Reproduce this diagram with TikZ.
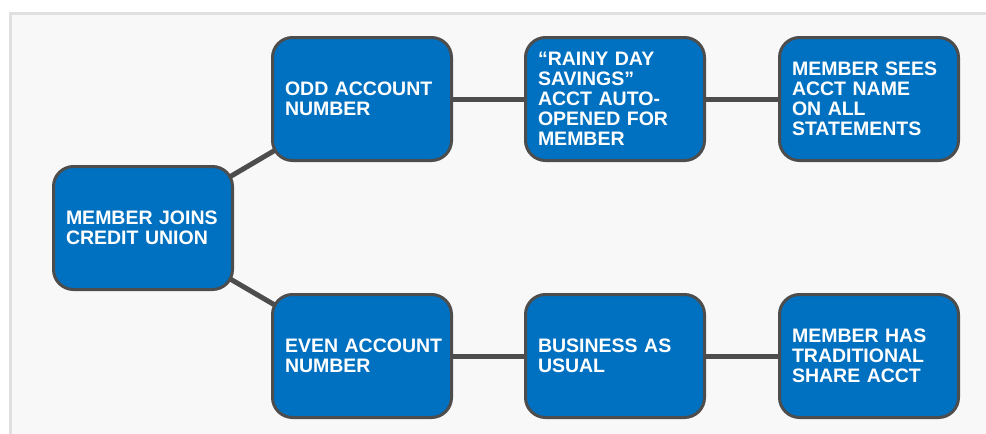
\documentclass[tikz,border=0pt]{standalone}
\usepackage{fontspec}
\setmainfont{Liberation Sans}
\usetikzlibrary{backgrounds}
\definecolor{boxblue}{RGB}{0,112,192}
\definecolor{boxedge}{RGB}{77,77,77}
\definecolor{linkgrey}{RGB}{77,77,77}
\definecolor{framefill}{RGB}{248,248,248}
\definecolor{frameedge}{RGB}{224,224,224}
\tikzset{
  stepbox/.style={draw=boxedge, line width=3pt, fill=boxblue, rounded corners=20pt,
    minimum width=179pt, minimum height=123pt, text width=154pt, inner xsep=12.5pt,
    align=left, text=white,
    font=\bfseries\fontsize{19.5pt}{20pt}\selectfont},
  link/.style={draw=linkgrey, line width=5pt}
}
\begin{document}
\begin{tikzpicture}[x=1pt,y=-1pt]
\useasboundingbox (0,0) rectangle (986,434);
\node[stepbox] (join) at (143,228) {MEMBER JOINS\\CREDIT UNION};
\node[stepbox] (odd) at (362,99) {ODD ACCOUNT\\NUMBER};
\node[stepbox] (rainy) at (615,99) {“RAINY DAY\\SAVINGS”\\ACCT AUTO-\\OPENED FOR\\MEMBER};
\node[stepbox] (sees) at (869,99) {MEMBER SEES\\ACCT NAME\\ON ALL\\STATEMENTS};
\node[stepbox] (even) at (362,356) {\mbox{EVEN ACCOUNT}\\NUMBER};
\node[stepbox] (biz) at (615,356) {BUSINESS AS\\USUAL};
\node[stepbox] (has) at (869,356) {MEMBER HAS\\TRADITIONAL\\SHARE ACCT};
\begin{scope}[on background layer]
  \fill[framefill] (10,13) rectangle (990,440);
  \draw[frameedge, line width=3pt] (10,440) -- (10,13) -- (990,13);
  \draw[link] (join.center) -- (odd.center);
  \draw[link] (join.center) -- (even.center);
  \draw[link] (odd.center) -- (rainy.center);
  \draw[link] (rainy.center) -- (sees.center);
  \draw[link] (even.center) -- (biz.center);
  \draw[link] (biz.center) -- (has.center);
\end{scope}
\end{tikzpicture}
\end{document}
